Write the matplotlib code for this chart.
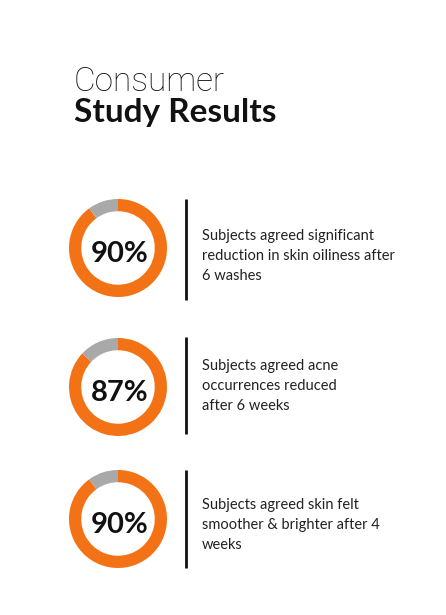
import matplotlib
matplotlib.use("Agg")
import matplotlib.pyplot as plt

# ---- data ----
title_line1 = "Consumer"
title_line2 = "Study Results"
percentages = [90, 87, 90]
descriptions = [
    "Subjects agreed significant\nreduction in skin oiliness after\n6 washes",
    "Subjects agreed acne\noccurrences reduced\nafter 6 weeks",
    "Subjects agreed skin felt\nsmoother & brighter after 4\nweeks",
]

# ---- layout (pixels) ----
W, H = 446, 615
ring_cx = 118
ring_cy = [248, 387, 519]
ring_r = 49
text_cy = [256, 386, 525]
line_x = 186
line_spans = [(199, 300), (337, 434), (470, 568)]

ORANGE = "#F47216"
GRAY = "#A9A9A9"
DARK = "#111111"
FONT = "Lato"

fig = plt.figure(figsize=(W / 100, H / 100), dpi=100)
fig.patch.set_facecolor("white")

main = fig.add_axes([0, 0, 1, 1])
main.set_xlim(0, W)
main.set_ylim(H, 0)
main.axis("off")

main.text(74, 91, title_line1, fontsize=24, fontfamily=["Roboto", "Lato"], fontweight="light",
          color=DARK, va="baseline", ha="left")
main.text(74, 122, title_line2, fontsize=24, fontfamily=FONT, fontweight="bold",
          color=DARK, va="baseline", ha="left")

for pct, desc, cy, tcy, (y0, y1) in zip(percentages, descriptions, ring_cy, text_cy, line_spans):
    ax = fig.add_axes([(ring_cx - ring_r) / W, 1 - (cy + ring_r) / H,
                       2 * ring_r / W, 2 * ring_r / H])
    ax.pie([pct, 100 - pct], colors=[ORANGE, GRAY], startangle=90,
           counterclock=False, radius=1.0,
           wedgeprops=dict(width=0.25, linewidth=0))
    ax.set_xlim(-1, 1)
    ax.set_ylim(-1, 1)
    ax.set_aspect("equal")
    ax.axis("off")
    ax.text(0.03, -0.12, f"{pct}%", ha="center", va="center", fontsize=21,
            fontweight="bold", fontfamily=FONT, color=DARK)

    main.plot([line_x, line_x], [y0, y1], color=DARK, linewidth=2.0,
              solid_capstyle="butt")
    main.text(202, tcy, desc, fontsize=10.5, fontfamily=FONT, color="#222222",
              ha="left", va="center", linespacing=1.55)

fig.savefig("out.png", dpi=100, facecolor="white")
